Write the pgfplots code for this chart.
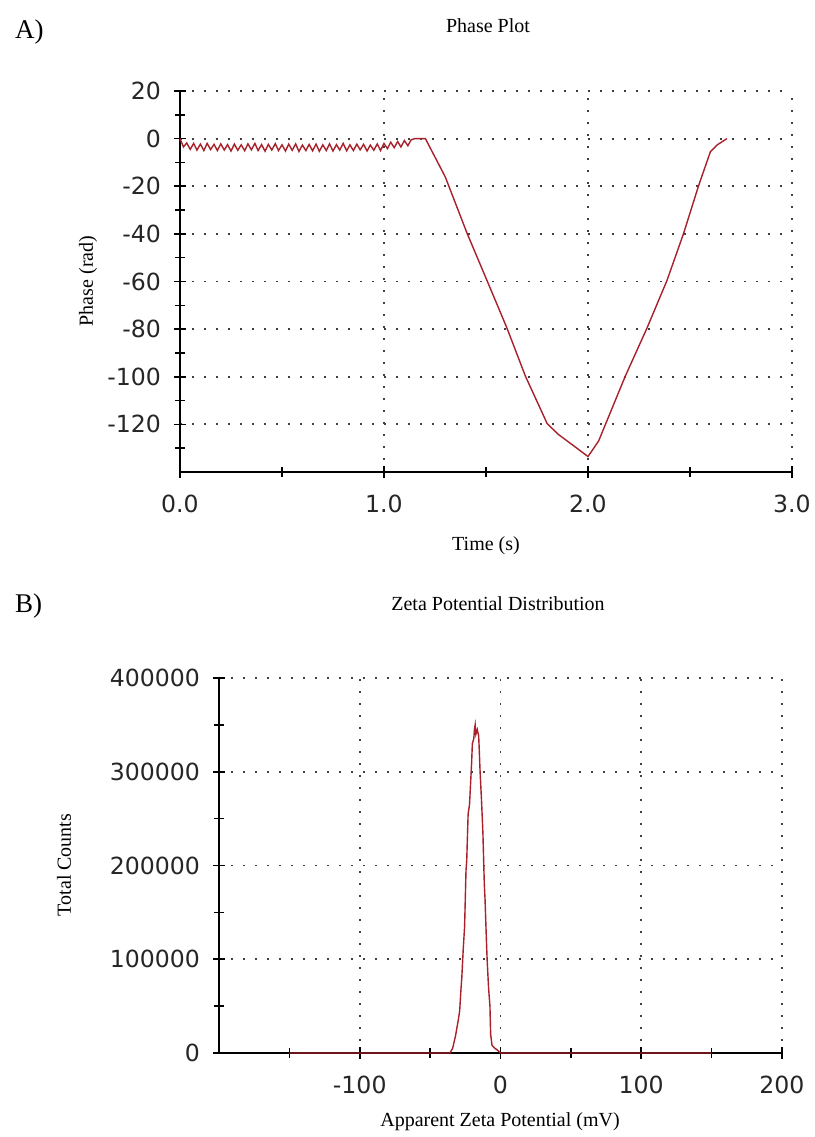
\documentclass[border=0pt]{standalone}
\usepackage{fontspec}
\setmainfont{Liberation Serif}
\newfontfamily\ticksf{DejaVu Sans}
\usepackage{pgfplots}
\pgfplotsset{compat=1.18}
\definecolor{curve}{HTML}{A8202A}

\pgfplotsset{
  malvern/.style={
    scale only axis,
    axis lines*=left,
    axis line style={line width=1pt, black},
    tick align=center,
    major tick length=6pt,
    minor tick length=5pt,
    tick style={line width=0.8pt, black},
    xmajorgrids, ymajorgrids,
    major grid style={black!75, line width=0.9pt, dash pattern=on 0.9pt off 5.1pt},
    /pgf/number format/assume math mode=true,
    tick label style={font=\ticksf\fontsize{11.8}{14}\selectfont, text=black!85},
    xticklabel style={yshift=-5pt},
    yticklabel style={xshift=-3pt},
    clip=false,
  },
}

\begin{document}
\begin{tikzpicture}
\path[use as bounding box] (0,0) rectangle (407.5pt,-568.5pt);

% ---------- A) phase plot ----------
\node[anchor=west, font=\fontsize{13.5}{15}\selectfont] at (4pt,-16pt) {A)};
\node[font=\fontsize{10}{12}\selectfont] at (244pt,-13pt) {Phase Plot};
\begin{axis}[malvern,
  at={(90pt,-236pt)}, anchor=south west,
  width=306pt, height=190.5pt,
  xmin=0, xmax=3, ymin=-140, ymax=20,
  xtick={0,1,2,3},
  minor xtick={0.5,1.5,2.5},
  ytick={-120,-100,-80,-60,-40,-20,0,20},
  minor ytick={-130,-110,-90,-70,-50,-30,-10,10},
  xticklabel style={/pgf/number format/.cd, fixed, fixed zerofill, precision=1},
]
\addplot[curve, line width=0.7pt] coordinates {
  (0.000,0) (0.017,-3.5) (0.033,-1.8) (0.050,-4.5) (0.067,-2.0) (0.083,-4.8)
  (0.100,-2.3) (0.117,-5.0) (0.133,-2.0) (0.150,-4.6) (0.167,-2.4) (0.183,-5.0)
  (0.200,-2.2) (0.217,-4.8) (0.233,-2.5) (0.250,-5.2) (0.267,-2.3) (0.283,-4.9)
  (0.300,-2.6) (0.317,-5.1) (0.333,-2.2) (0.350,-4.7) (0.367,-2.0) (0.383,-5.0)
  (0.400,-2.5) (0.417,-5.3) (0.433,-2.4) (0.450,-4.8) (0.467,-2.1) (0.483,-5.0)
  (0.500,-2.6) (0.517,-5.2) (0.533,-2.3) (0.550,-4.9) (0.567,-2.2) (0.583,-5.4)
  (0.600,-2.7) (0.617,-5.0) (0.633,-2.4) (0.650,-5.1) (0.667,-2.3) (0.683,-5.3)
  (0.700,-2.6) (0.717,-5.0) (0.733,-2.2) (0.750,-5.2) (0.767,-2.5) (0.783,-4.8)
  (0.800,-2.0) (0.817,-5.1) (0.833,-2.6) (0.850,-5.0) (0.867,-2.3) (0.883,-4.7)
  (0.900,-2.4) (0.917,-5.2) (0.933,-2.7) (0.950,-4.9) (0.967,-2.2) (0.983,-5.0)
  (1.000,-2.0) (1.017,-4.2) (1.033,-1.5) (1.050,-3.8) (1.067,-1.2) (1.083,-3.5)
  (1.100,-0.8) (1.117,-3.0) (1.133,-0.5) (1.150,0) (1.203,0)
  (1.300,-16) (1.407,-39.7) (1.505,-59.6) (1.603,-79.6) (1.693,-99.7)
  (1.800,-119.7) (1.856,-124.3) (1.922,-128.5) (2.000,-133.5)
  (2.052,-127) (2.183,-99.7) (2.289,-79.6) (2.387,-59.6) (2.469,-39.7)
  (2.542,-19.8) (2.600,-5.5) (2.632,-2.7) (2.681,0)
};
\end{axis}
\node[font=\fontsize{10}{12}\selectfont] at (243pt,-273pt) {Time (s)};
\node[rotate=90, font=\fontsize{10}{12}\selectfont] at (44pt,-140.5pt) {Phase (rad)};

% ---------- B) zeta potential distribution ----------
\node[anchor=west, font=\fontsize{13.5}{15}\selectfont] at (4pt,-303pt) {B)};
\node[font=\fontsize{10}{12}\selectfont] at (249pt,-302pt) {Zeta Potential Distribution};
\begin{axis}[malvern,
  at={(109.5pt,-526.5pt)}, anchor=south west,
  width=281.5pt, height=187.5pt,
  xmin=-200, xmax=200, ymin=0, ymax=400000,
  xtick={-100,0,100,200},
  minor xtick={-150,-50,50,150},
  ytick={0,100000,200000,300000,400000},
  minor ytick={50000,150000,250000,350000},
  scaled y ticks=false,
  yticklabel style={/pgf/number format/.cd, fixed, 1000 sep={}},
]
\addplot[curve, line width=0.7pt] coordinates {
  (-150,0) (-36,0) (-34,5000) (-32,18000) (-30,35000) (-29,45000)
  (-28,70000) (-27.5,80000) (-26.5,110000) (-25.5,135000) (-24.5,195000)
  (-24,205000) (-23,255000) (-22,265000) (-21,295000) (-20.5,310000)
  (-20,330000) (-19,335000) (-18.5,345000) (-18,350000) (-17.5,340000)
  (-16.5,345000) (-15.5,338000) (-15,320000) (-14.5,300000) (-13.5,270000)
  (-12.5,235000) (-11.5,180000) (-11,165000) (-10,120000) (-9.5,100000)
  (-8.5,70000) (-7.5,50000) (-7,20000) (-6,8000) (-4,5000) (-2,3000)
  (0,0) (150,0)
};
\end{axis}
\node[font=\fontsize{10}{12}\selectfont] at (250pt,-561pt) {Apparent Zeta Potential (mV)};
\node[rotate=90, font=\fontsize{10}{12}\selectfont] at (32pt,-432.5pt) {Total Counts};
\end{tikzpicture}
\end{document}
